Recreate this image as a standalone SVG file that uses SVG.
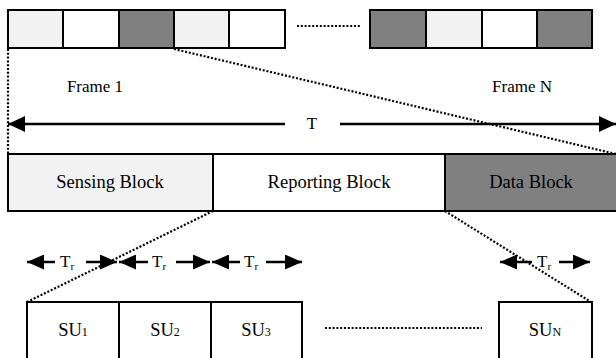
<svg xmlns="http://www.w3.org/2000/svg" width="616" height="358" viewBox="0 0 616 358">
<defs>
<style>
.bx{stroke:#000;stroke-width:2;}
.lg{fill:#f2f2f2;}
.wh{fill:#fff;}
.dg{fill:#808080;}
.dot{stroke:#000;stroke-width:2.2;stroke-dasharray:2 1.8;fill:none;}
.ln{stroke:#000;stroke-width:2.5;fill:none;}
.t{font-family:'Liberation Serif','DejaVu Serif',serif;font-size:17px;fill:#000;}
.b{font-size:18.5px;}
.c{text-anchor:middle;}
</style>
<marker id="ah" markerUnits="userSpaceOnUse" markerWidth="17" markerHeight="15" refX="17" refY="7.5" orient="auto">
<path d="M0,0 L17,7.5 L0,15 z" fill="#000"/>
</marker>
<marker id="ahb" markerUnits="userSpaceOnUse" markerWidth="17" markerHeight="16" refX="17" refY="8" orient="auto">
<path d="M0,0 L17,8 L0,16 z" fill="#000"/>
</marker>
</defs>
<rect width="616" height="358" fill="#fff"/>

<g id="frame1">
<rect class="bx lg" x="8" y="10" width="55" height="38"/>
<rect class="bx wh" x="63" y="10" width="56" height="38"/>
<rect class="bx dg" x="119" y="10" width="55" height="38"/>
<rect class="bx lg" x="174" y="10" width="55" height="38"/>
<rect class="bx wh" x="229" y="10" width="56" height="38"/>
</g>
<g id="frameN">
<rect class="bx dg" x="370" y="10" width="56" height="38"/>
<rect class="bx lg" x="426" y="10" width="56" height="38"/>
<rect class="bx wh" x="482" y="10" width="55" height="38"/>
<rect class="bx dg" x="537" y="10" width="55" height="38"/>
</g>
<g id="labels">
<text class="t c" x="95" y="92" font-family="Liberation Serif, serif">Frame 1</text>
<text class="t c" x="522" y="92" font-family="Liberation Serif, serif">Frame N</text>
<text class="t c" x="312" y="129" font-family="Liberation Serif, serif">T</text>
</g>

<g id="sensing">
<rect class="bx lg" x="8" y="154" width="205" height="57"/>
<text class="t b c" x="110" y="188" font-family="Liberation Serif, serif">Sensing Block</text>
</g>
<g id="reporting">
<rect class="bx wh" x="213" y="154" width="232" height="57"/>
<text class="t b c" x="329" y="188" font-family="Liberation Serif, serif">Reporting Block</text>
</g>
<g id="data">
<rect class="bx dg" x="445" y="154" width="180" height="57"/>
<text class="t b c" x="531" y="188" font-family="Liberation Serif, serif">Data Block</text>
</g>

<g id="su1">
<rect class="bx wh" x="27" y="302" width="92" height="70"/>
<text class="t b c" x="73" y="336" font-family="Liberation Serif, serif">SU<tspan font-size="12">1</tspan></text>
</g>
<g id="su2">
<rect class="bx wh" x="119" y="302" width="92" height="70"/>
<text class="t b c" x="165" y="336" font-family="Liberation Serif, serif">SU<tspan font-size="12">2</tspan></text>
</g>
<g id="su3">
<rect class="bx wh" x="211" y="302" width="91" height="70"/>
<text class="t b c" x="256" y="336" font-family="Liberation Serif, serif">SU<tspan font-size="12">3</tspan></text>
</g>
<g id="suN">
<rect class="bx wh" x="499" y="302" width="93" height="70"/>
<text class="t b c" x="545" y="336" font-family="Liberation Serif, serif">SU<tspan font-size="12">N</tspan></text>
</g>

<g id="tr-labels">
<text class="t" x="60" y="267" font-family="Liberation Serif, serif">T<tspan font-size="11" dy="3">r</tspan></text>
<text class="t" x="152" y="267" font-family="Liberation Serif, serif">T<tspan font-size="11" dy="3">r</tspan></text>
<text class="t" x="244" y="267" font-family="Liberation Serif, serif">T<tspan font-size="11" dy="3">r</tspan></text>
<text class="t" x="537" y="267" font-family="Liberation Serif, serif">T<tspan font-size="11" dy="3">r</tspan></text>
</g>

<g id="connectors">
<line class="dot" x1="297" y1="26" x2="360" y2="26"/>
<line class="dot" x1="325" y1="328" x2="482" y2="328"/>
<line class="ln" x1="285" y1="124" x2="8" y2="124" marker-end="url(#ahb)"/>
<line class="ln" x1="340" y1="124" x2="616" y2="124" marker-end="url(#ahb)"/>
<line class="ln" x1="55" y1="262" x2="27" y2="262" marker-end="url(#ah)"/>
<line class="ln" x1="86" y1="262" x2="117" y2="262" marker-end="url(#ah)"/>
<line class="ln" x1="148" y1="262" x2="119" y2="262" marker-end="url(#ah)"/>
<line class="ln" x1="176" y1="262" x2="210" y2="262" marker-end="url(#ah)"/>
<line class="ln" x1="240" y1="262" x2="212" y2="262" marker-end="url(#ah)"/>
<line class="ln" x1="266" y1="262" x2="302" y2="262" marker-end="url(#ah)"/>
<line class="ln" x1="532" y1="262" x2="500" y2="262" marker-end="url(#ah)"/>
<line class="ln" x1="559" y1="262" x2="590" y2="262" marker-end="url(#ah)"/>
<line class="dot" x1="8" y1="49" x2="8" y2="154"/>
<line class="dot" x1="174" y1="49" x2="616" y2="154"/>
<line class="dot" x1="213" y1="211" x2="27" y2="302"/>
<line class="dot" x1="445" y1="211" x2="591" y2="302"/>
</g>
</svg>
